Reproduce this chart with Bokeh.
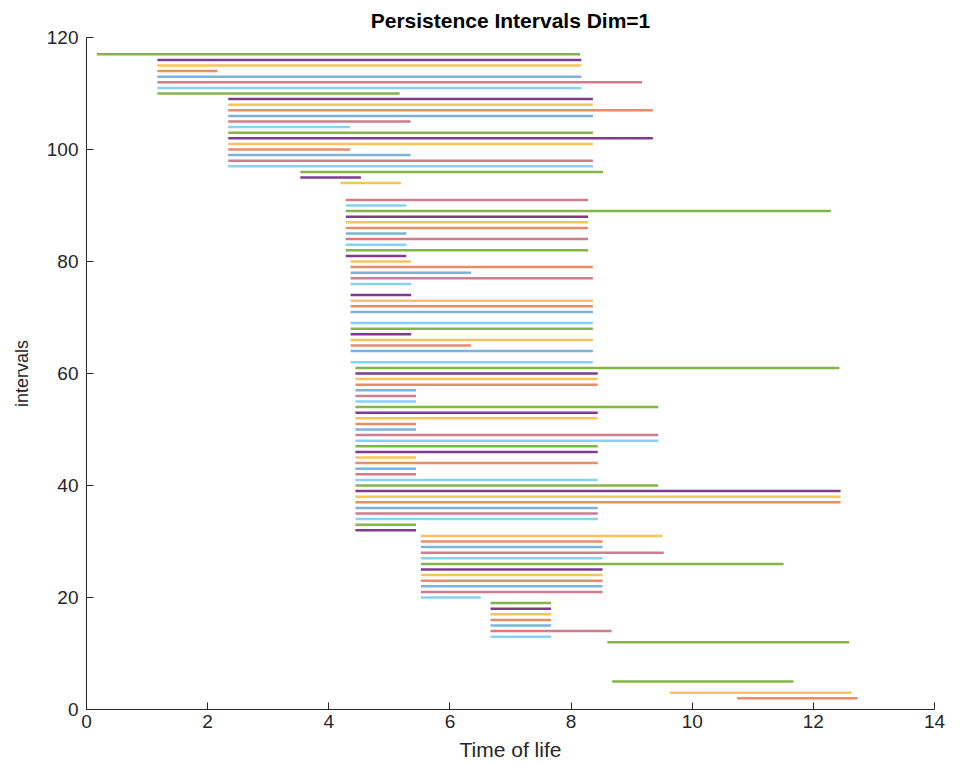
import numpy as np
from bokeh.plotting import figure
from bokeh.models import ColumnDataSource, FixedTicker, Range1d
from bokeh.embed import file_html
from bokeh.resources import INLINE

# Persistence intervals, index 1..117 (None = zero-length / not drawn)
births = [
    None, 10.74, 9.63, None, 8.68, None, None, None, None, None,   # 1-10
    None, 8.60, 6.67, 6.67, 6.67, 6.67, 6.67, 6.67, 6.67, 5.52,    # 11-20
    5.52, 5.52, 5.52, 5.52, 5.52, 5.52, 5.52, 5.52, 5.52, 5.52,    # 21-30
    5.52, 4.44, 4.44, 4.44, 4.44, 4.44, 4.44, 4.44, 4.44, 4.44,    # 31-40
    4.44, 4.44, 4.44, 4.44, 4.44, 4.44, 4.44, 4.44, 4.44, 4.44,    # 41-50
    4.44, 4.44, 4.44, 4.44, 4.44, 4.44, 4.44, 4.44, 4.44, 4.44,    # 51-60
    4.44, 4.36, None, 4.36, 4.36, 4.36, 4.36, 4.36, 4.36, None,    # 61-70
    4.36, 4.36, 4.36, 4.36, None, 4.36, 4.36, 4.36, 4.36, 4.36,    # 71-80
    4.28, 4.28, 4.28, 4.28, 4.28, 4.28, 4.28, 4.28, 4.28, 4.28,    # 81-90
    4.28, None, None, 4.19, 3.53, 3.53, 2.34, 2.34, 2.34, 2.34,    # 91-100
    2.34, 2.34, 2.34, 2.34, 2.34, 2.34, 2.34, 2.34, 2.34, 1.17,    # 101-110
    1.17, 1.17, 1.17, 1.17, 1.17, 1.17, 0.17,                      # 111-117
]
deaths = [
    None, 12.73, 12.63, None, 11.67, None, None, None, None, None,
    None, 12.59, 7.67, 8.67, 7.67, 7.67, 7.67, 7.67, 7.67, 6.51,
    8.52, 8.52, 8.52, 8.52, 8.52, 11.51, 8.52, 9.53, 8.52, 8.52,
    9.51, 5.44, 5.44, 8.44, 8.44, 8.44, 12.45, 12.45, 12.45, 9.44,
    8.44, 5.44, 5.44, 8.44, 5.44, 8.44, 8.44, 9.44, 9.44, 5.44,
    5.44, 8.44, 8.44, 9.44, 5.44, 5.44, 5.44, 8.44, 8.44, 8.44,
    12.43, 8.36, None, 8.36, 6.35, 8.36, 5.36, 8.36, 8.36, None,
    8.36, 8.36, 8.36, 5.36, None, 5.36, 8.36, 6.35, 8.36, 5.36,
    5.28, 8.28, 5.28, 8.28, 5.28, 8.28, 8.28, 8.28, 12.29, 5.28,
    8.28, None, None, 5.19, 4.53, 8.53, 8.36, 8.36, 5.35, 4.35,
    8.36, 9.35, 8.36, 4.35, 5.35, 8.36, 9.35, 8.36, 8.36, 5.17,
    8.17, 9.17, 8.17, 2.16, 8.17, 8.17, 8.15,
]
x_ticks = [0, 2, 4, 6, 8, 10, 12, 14]
y_ticks = [0, 20, 40, 60, 80, 100, 120]

# colour order cycled by interval index
palette = ["#7db2dc", "#eb8c69", "#f3c55c", "#7d3c8c", "#84b44a", "#86d2f3", "#cd7d8c"]

idx = np.arange(1, len(births) + 1)
b = np.array([np.nan if v is None else v for v in births], dtype=float)
d = np.array([np.nan if v is None else v for v in deaths], dtype=float)
keep = ~np.isnan(b)
colors = [palette[(i - 1) % 7] for i in idx]

src = ColumnDataSource(dict(
    x0=b[keep], x1=d[keep], y=idx[keep].astype(float),
    color=[c for c, k in zip(colors, keep) if k],
))

FONT = "Liberation Sans"
TXT = "#262626"

p = figure(
    output_backend="svg", toolbar_location=None,
    frame_width=848, frame_height=672,
    min_border_left=86, min_border_right=14, min_border_top=36, min_border_bottom=50,
    x_range=Range1d(0, 14), y_range=Range1d(0, 120),
    title="Persistence Intervals Dim=1",
)
p.segment(x0="x0", y0="y", x1="x1", y1="y", color="color", line_width=2.5,
          line_cap="butt", source=src)

p.title.align = "center"
p.title.text_font = FONT
p.title.text_font_size = "21px"
p.title.text_font_style = "bold"
p.title.text_color = "#000000"
p.title.standoff = 12

p.xgrid.visible = False
p.ygrid.visible = False
p.outline_line_color = None

for ax, ticks, label in ((p.xaxis[0], x_ticks, "Time of life"), (p.yaxis[0], y_ticks, "intervals")):
    ax.ticker = FixedTicker(ticks=ticks)
    ax.axis_label = label
    ax.axis_label_text_font = FONT
    ax.axis_label_text_font_style = "normal"
    ax.axis_label_text_color = TXT
    ax.major_label_text_font = FONT
    ax.major_label_text_font_size = "19px"
    ax.major_label_text_color = TXT
    ax.axis_line_color = TXT
    ax.axis_line_width = 1
    ax.major_tick_line_color = TXT
    ax.major_tick_in = 7
    ax.major_tick_out = 0
    ax.minor_tick_line_color = None

p.xaxis.axis_label_text_font_size = "21px"
p.yaxis.axis_label_text_font_size = "18px"
p.xaxis.axis_label_standoff = 7
p.yaxis.axis_label_standoff = 12
p.xaxis.major_label_standoff = 5
p.yaxis.major_label_standoff = 8

open("out.html", "w").write(file_html(p, INLINE))
